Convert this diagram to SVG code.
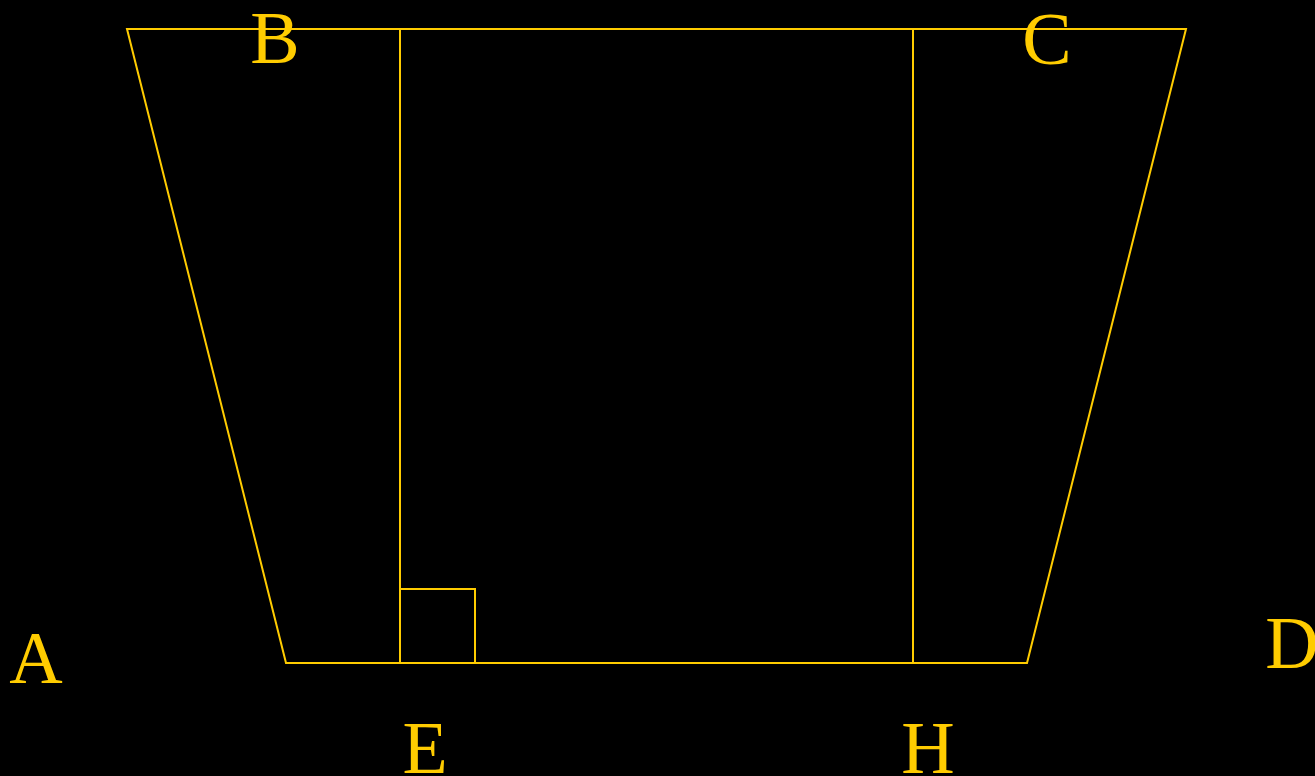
<svg xmlns="http://www.w3.org/2000/svg" width="1315" height="776" viewBox="0 0 1315 776">
<style>
.ln{fill:none;stroke:#FFCC00;stroke-width:2}
.lb{font-family:"Liberation Serif","Times New Roman",serif;font-size:74px;fill:#FFCC00;text-anchor:middle}
</style>
<rect width="1315" height="776" fill="#000"/>
<g id="connectors">
<polygon class="ln" points="127,29 1186,29 1027,663 286,663"/>
<line class="ln" x1="400" y1="29" x2="400" y2="663"/>
<line class="ln" x1="913" y1="29" x2="913" y2="663"/>
<rect class="ln" x="400" y="589" width="75" height="74"/>
</g>
<g id="B"><text class="lb" x="275" y="63">B</text></g>
<g id="C"><text class="lb" x="1047" y="64">C</text></g>
<g id="A"><text class="lb" x="36" y="683">A</text></g>
<g id="D"><text class="lb" x="1292" y="668">D</text></g>
<g id="E"><text class="lb" x="425" y="773">E</text></g>
<g id="H"><text class="lb" x="928" y="773">H</text></g>
</svg>
